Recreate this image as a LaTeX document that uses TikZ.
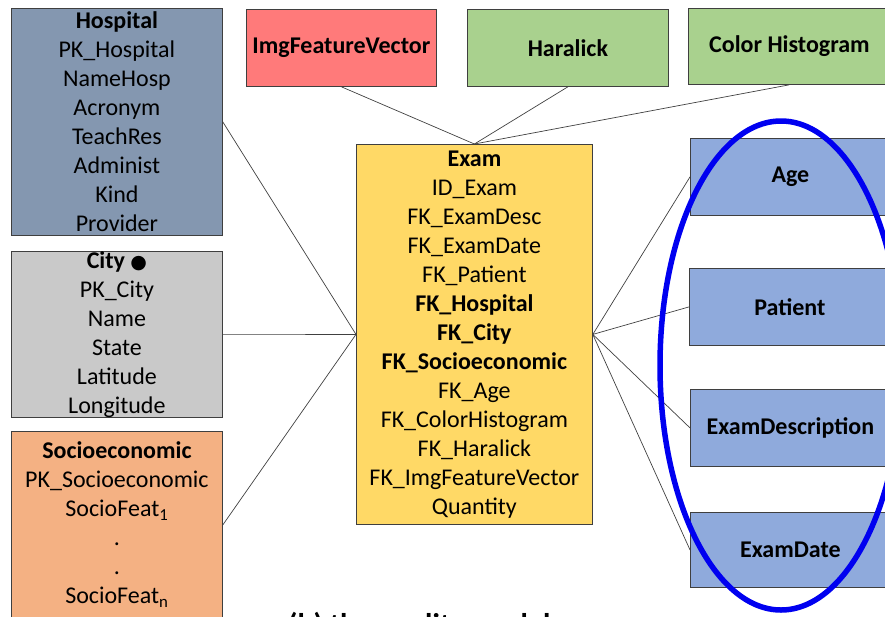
\documentclass[tikz,border=0pt]{standalone}
\usepackage{fontspec}
\setmainfont{Carlito}
\newfontfamily\dejavu{DejaVu Sans}
\definecolor{boxline}{HTML}{3F3F3F}
\definecolor{linkgray}{HTML}{404040}
\definecolor{hospfill}{HTML}{8497B0}
\definecolor{cityfill}{HTML}{C9C9C9}
\definecolor{sociofill}{HTML}{F4B183}
\definecolor{examfill}{HTML}{FFD966}
\definecolor{imgfill}{HTML}{FF7A7A}
\definecolor{greenfill}{HTML}{A9D18E}
\definecolor{bluefill}{HTML}{8FAADC}
\definecolor{ringblue}{HTML}{0000F0}
\begin{document}
\begin{tikzpicture}[x=1pt,y=-1pt,
  entity/.style={draw=boxline, line width=0.8pt, align=center, inner sep=0pt,
    anchor=north west, font=\fontsize{24}{29}\selectfont},
  dimbox/.style={draw=boxline, line width=0.8pt, align=center, inner sep=0pt,
    anchor=north west, font=\fontsize{24}{28}\selectfont\bfseries},
  link/.style={draw=linkgray, line width=0.7pt}]
\useasboundingbox (0,0) rectangle (885,616);
\clip (0,0) rectangle (885,616);

% entity tables
\node[entity, fill=hospfill, minimum width=211pt, minimum height=227pt] (hosp) at (11,8)
  {\textbf{Hospital}\\PK\_Hospital\\NameHosp\\Acronym\\TeachRes\\Administ\\Kind\\Provider};
\node[entity, fill=cityfill, minimum width=211pt, minimum height=164pt] (city) at (11,251)
  {\textbf{City {\dejavu\bfseries\fontsize{19}{29}\selectfont ●}}\\PK\_City\\Name\\State\\Latitude\\Longitude};
\node[entity, fill=sociofill, minimum width=211pt, minimum height=187pt] (socio) at (11,431)
  {\textbf{Socioeconomic}\\PK\_Socioeconomic\\SocioFeat\textsubscript{1}\\.\\.\\SocioFeat\textsubscript{n}};
\node[entity, fill=examfill, minimum width=236pt, minimum height=380pt] (exam) at (356,144)
  {\textbf{Exam}\\ID\_Exam\\FK\_ExamDesc\\FK\_ExamDate\\FK\_Patient\\\textbf{FK\_Hospital}\\\textbf{FK\_City}\\\textbf{FK\_Socioeconomic}\\FK\_Age\\FK\_ColorHistogram\\FK\_Haralick\\FK\_ImgFeatureVector\\Quantity};

% dimension boxes
\node[dimbox, fill=imgfill, minimum width=190pt, minimum height=77pt] (imgfv) at (246,9) {ImgFeatureVector};
\node[dimbox, fill=greenfill, minimum width=201pt, minimum height=77pt] (haralick) at (467,9) {Haralick};
\node[dimbox, fill=greenfill, minimum width=202pt, minimum height=76pt] (colorhist) at (688,8) {Color Histogram};
\node[dimbox, fill=bluefill, minimum width=200pt, minimum height=77pt] (age) at (690,138) {Age};
\node[dimbox, fill=bluefill, minimum width=201pt, minimum height=77pt] (patient) at (689,268) {Patient};
\node[dimbox, fill=bluefill, minimum width=200pt, minimum height=77pt] (examdesc) at (690,389) {ExamDescription};
\node[dimbox, fill=bluefill, minimum width=200pt, minimum height=75pt] (examdate) at (690,512) {ExamDate};

% relationships
\draw[link] (hosp.east) -- (exam.west);
\draw[link] (city.east) -- (exam.west);
\draw[link] (socio.east) -- (exam.west);
\draw[link] (imgfv.south) -- (exam.north);
\draw[link] (haralick.south) -- (exam.north);
\draw[link] (colorhist.south) -- (exam.north);
\draw[link] (exam.east) -- (age.west);
\draw[link] (exam.east) -- (patient.west);
\draw[link] (exam.east) -- (examdesc.west);
\draw[link] (exam.east) -- (examdate.west);

% highlight ring around the four dimensions
\draw[ringblue, line width=5.5pt] (781,365.5) ellipse [x radius=121, y radius=244.5];

% caption, cut by the lower edge
\node[anchor=base west, inner sep=0pt, font=\fontsize{30}{36}\selectfont\bfseries] (caption) at (288,634) {(b) the quality model};
\end{tikzpicture}
\end{document}
